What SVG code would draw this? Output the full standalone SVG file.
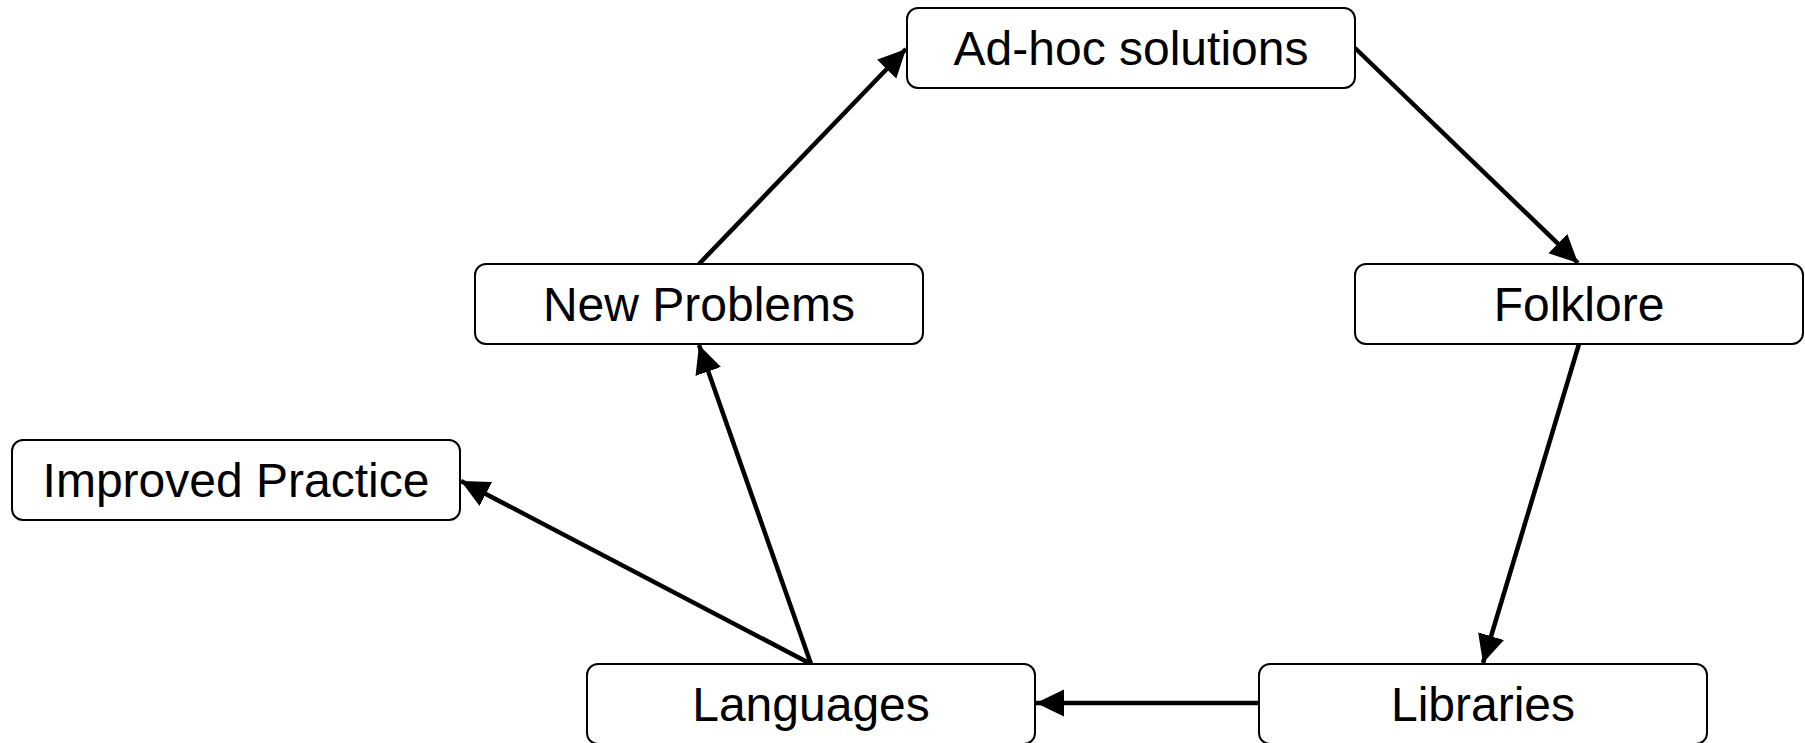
<svg xmlns="http://www.w3.org/2000/svg" width="1805" height="743" viewBox="0 0 1805 743">
  <style>
    .node rect { fill: #ffffff; stroke: #000000; stroke-width: 2; }
    .node text { font-family: "Liberation Sans", Arial, sans-serif; font-size: 48px; fill: #000000; text-anchor: middle; }
    .edge { fill: none; stroke: #000000; stroke-width: 4.5; marker-end: url(#arrow); }
  </style>
  <defs>
    <marker id="arrow" markerUnits="userSpaceOnUse" markerWidth="30" markerHeight="30" viewBox="0 0 30 30" refX="28" refY="15" orient="auto">
      <path d="M0,1.5 L28,15 L0,28.5 z" fill="#000000"/>
    </marker>
  </defs>
  <rect width="1805" height="743" fill="#ffffff"/>

  <g id="connectors">
    <line class="edge" x1="1355" y1="48" x2="1578" y2="263"/>
    <line class="edge" x1="1579" y1="344" x2="1483" y2="663"/>
    <line class="edge" x1="1259" y1="703" x2="1036" y2="703"/>
    <line class="edge" x1="811" y1="664" x2="699" y2="345"/>
    <line class="edge" x1="811" y1="664" x2="461" y2="481"/>
    <line class="edge" x1="699" y1="264" x2="906" y2="49"/>
  </g>

  <g id="adhoc" class="node">
    <rect x="907" y="8" width="448" height="80" rx="11" ry="11"/>
    <text x="1131" y="65">Ad-hoc solutions</text>
  </g>
  <g id="newproblems" class="node">
    <rect x="475" y="264" width="448" height="80" rx="11" ry="11"/>
    <text x="699" y="321">New Problems</text>
  </g>
  <g id="folklore" class="node">
    <rect x="1355" y="264" width="448" height="80" rx="11" ry="11"/>
    <text x="1579" y="321">Folklore</text>
  </g>
  <g id="improved" class="node">
    <rect x="12" y="440" width="448" height="80" rx="11" ry="11"/>
    <text x="236" y="497">Improved Practice</text>
  </g>
  <g id="languages" class="node">
    <rect x="587" y="664" width="448" height="80" rx="11" ry="11"/>
    <text x="811" y="721">Languages</text>
  </g>
  <g id="libraries" class="node">
    <rect x="1259" y="664" width="448" height="80" rx="11" ry="11"/>
    <text x="1483" y="721">Libraries</text>
  </g>
</svg>
